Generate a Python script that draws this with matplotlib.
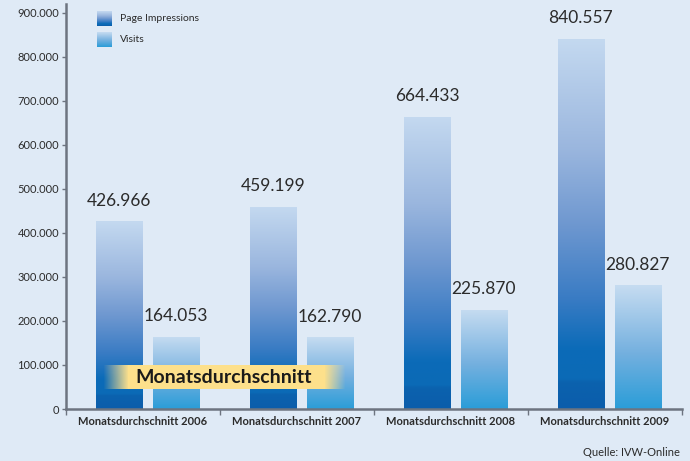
import numpy as np
import matplotlib as mpl
from matplotlib import pyplot as plt
from matplotlib.colors import LinearSegmentedColormap, to_rgb
from matplotlib.ticker import FuncFormatter

# data
groups = ["Monatsdurchschnitt 2006", "Monatsdurchschnitt 2007",
          "Monatsdurchschnitt 2008", "Monatsdurchschnitt 2009"]
page_impressions = [426966, 459199, 664433, 840557]
visits = [164053, 162790, 225870, 280827]
series_names = ["Page Impressions", "Visits"]
y_ticks = [0, 100000, 200000, 300000, 400000, 500000, 600000, 700000, 800000, 900000]

BG = "#dfeaf6"
TXT = "#2b2b2b"
SPINE = "#6d7480"

mpl.rcParams['font.family'] = ['Lato', 'DejaVu Sans']

pi_cmap = LinearSegmentedColormap.from_list(
    "pi", [(0.0, "#0b5dab"), (0.07, "#0b62ae"), (0.08, "#0b6ab6"), (0.16, "#0b6bb8"),
           (0.3, "#3a7cc4"), (0.5, "#6f98d0"), (0.7, "#9ab6de"), (1.0, "#c4d9f0")])
vi_cmap = LinearSegmentedColormap.from_list(
    "vi", [(0.0, "#2a9dd8"), (0.45, "#74b0df"), (1.0, "#c6dcf1")])

W, H = 690, 461
fig = plt.figure(figsize=(W / 100, H / 100), dpi=100, facecolor=BG)
ax = fig.add_axes([66 / W, (H - 409) / H, (682 - 66) / W, 405 / H])
ax.set_facecolor(BG)

x = np.arange(len(groups))
bar_w = 0.30
grad = np.linspace(0, 1, 256).reshape(-1, 1)


def gradient_bars(xpos, values, cmap):
    bars = ax.bar(xpos, values, width=bar_w, color="none", edgecolor="none", zorder=2)
    for b in bars:
        bb = b.get_bbox()
        im = ax.imshow(grad, cmap=cmap, origin="lower", aspect="auto",
                       extent=[bb.x0, bb.x1, bb.y0, bb.y1], zorder=2)
        im.set_clip_path(b)
    return bars


pi_bars = gradient_bars(x + 0.344, page_impressions, pi_cmap)
vi_bars = gradient_bars(x + 0.714, visits, vi_cmap)

for bars, vals in ((pi_bars, page_impressions), (vi_bars, visits)):
    for b, v in zip(bars, vals):
        ax.annotate(f"{v:,}".replace(",", "."),
                    (b.get_x() + b.get_width() / 2, v),
                    xytext=(0, 9), textcoords="offset points",
                    ha="center", va="bottom", fontsize=12.5, color=TXT)

ax.set_xlim(0, len(groups))
ax.set_ylim(0, 920000)
ax.set_aspect("auto")

ax.set_yticks(y_ticks)
ax.yaxis.set_major_formatter(FuncFormatter(lambda v, p: f"{int(v):,}".replace(",", ".")))
ax.tick_params(axis="y", length=3, width=1, color=SPINE, pad=2, labelsize=8, labelcolor=TXT)

ax.set_xticks(np.arange(len(groups) + 1))
ax.set_xticklabels([])
ax.set_xticks(x + 0.5, minor=True)
ax.set_xticklabels(groups, minor=True, fontsize=8, fontweight="bold", color=TXT)
ax.tick_params(axis="x", which="major", length=4, width=1, color=SPINE)
ax.tick_params(axis="x", which="minor", length=0, pad=5)

for s in ("top", "right"):
    ax.spines[s].set_visible(False)
for s in ("left", "bottom"):
    ax.spines[s].set_color(SPINE)
    ax.spines[s].set_linewidth(1.8)

# legend swatches
sw = 15
for i, (name, cmap) in enumerate(zip(series_names, (pi_cmap, vi_cmap))):
    top = 11 + i * 21
    sax = fig.add_axes([97 / W, (H - top - sw) / H, sw / W, sw / H])
    sax.imshow(np.linspace(0.15, 0.85, 64).reshape(-1, 1), cmap=cmap,
               origin="lower", aspect="auto")
    sax.set_axis_off()
    fig.text(120 / W, (H - top - sw / 2) / H, name, fontsize=7.5,
             color=TXT, va="center", ha="left")

# "Monatsdurchschnitt" banner: yellow band with transparent fading ends
bx0, bx1, by0, by1 = 103, 346, 365, 389
bax = fig.add_axes([bx0 / W, (H - by1) / H, (bx1 - bx0) / W, (by1 - by0) / H])
n = bx1 - bx0
band = np.zeros((1, n, 4))
band[0, :, :3] = to_rgb("#fde08b")
alpha = np.ones(n)
fade_l, fade_r = 26, 22
alpha[:fade_l] = np.linspace(0, 1, fade_l)
alpha[n - fade_r:] = np.linspace(1, 0, fade_r)
band[0, :, 3] = alpha
bax.imshow(band, aspect="auto")
bax.set_axis_off()
bax.patch.set_alpha(0)
fig.text(224 / W, (H - 377) / H, "Monatsdurchschnitt", fontsize=14,
         fontweight="bold", color="#1a1a1a", ha="center", va="center")

fig.text(680 / W, (H - 452) / H, "Quelle: IVW-Online", fontsize=8,
         color=TXT, ha="right", va="center")

fig.savefig("out.png", dpi=100, facecolor=BG)
